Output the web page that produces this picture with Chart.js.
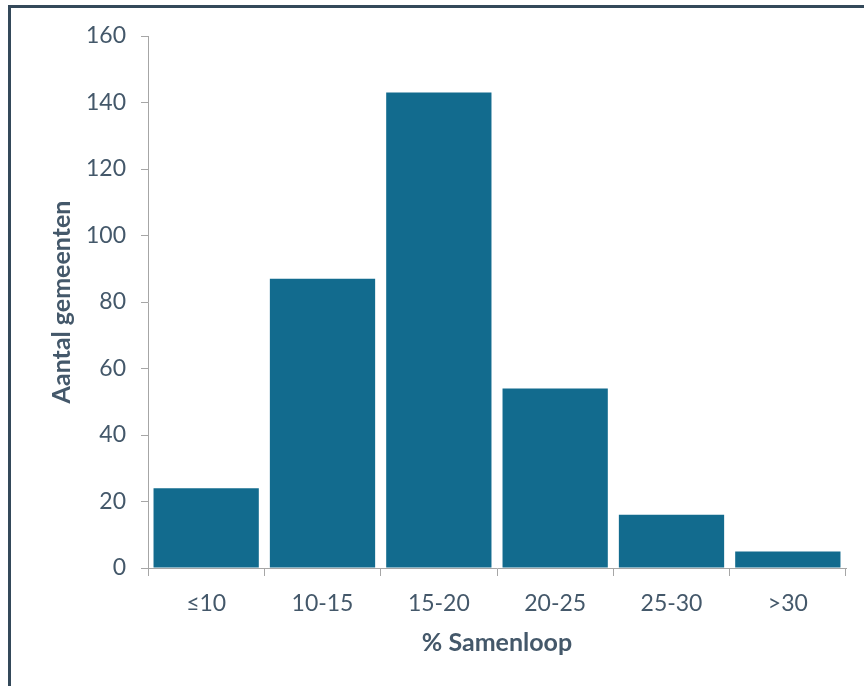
<!DOCTYPE html>
<html>
<head>
<meta charset="utf-8">
<script src="https://cdn.jsdelivr.net/npm/chart.js@4.4.1/dist/chart.umd.min.js"></script>
<style>
  html, body { margin: 0; padding: 0; background: #ffffff; }
  #wrap { position: relative; width: 864px; height: 686px; }
  canvas { display: block; }
</style>
</head>
<body>
<div id="wrap"><canvas id="chart" width="864" height="686"></canvas></div>
<script>
// Number of municipalities per band of "samenloop" percentage
const categories = ['≤10', '10-15', '15-20', '20-25', '25-30', '>30'];
const aantalGemeenten = [24, 87, 143, 54, 16, 5];
const yTicks = [0, 20, 40, 60, 80, 100, 120, 140, 160];

const barColor = '#126b8e';
const textColor = '#44586a';
const axisColor = '#a6a6a6';
const frameColor = '#34495a';

// Dark frame along the top and left edge of the figure
const framePlugin = {
  id: 'frame',
  beforeDraw(chart) {
    const ctx = chart.ctx;
    ctx.save();
    ctx.fillStyle = frameColor;
    ctx.fillRect(8, 5, 864 - 8, 3);
    ctx.fillRect(8, 5, 3, 686 - 5);
    ctx.restore();
  }
};

new Chart(document.getElementById('chart'), {
  type: 'bar',
  data: {
    labels: categories,
    datasets: [{
      data: aantalGemeenten,
      backgroundColor: barColor,
      borderWidth: 0,
      categoryPercentage: 0.905,
      barPercentage: 1.0
    }]
  },
  options: {
    responsive: false,
    animation: false,
    layout: { padding: { left: 0, right: 18, top: 36, bottom: 0 } },
    plugins: {
      legend: { display: false },
      tooltip: { enabled: false }
    },
    scales: {
      x: {
        grid: {
          display: true,
          offset: true,
          drawOnChartArea: false,
          drawTicks: true,
          tickLength: 8,
          color: axisColor
        },
        border: { display: true, color: axisColor, width: 1 },
        ticks: {
          color: textColor,
          padding: 14,
          font: { family: 'Lato', size: 23 }
        },
        title: {
          display: true,
          text: '% Samenloop',
          color: textColor,
          font: { family: 'Lato', size: 25, weight: 'bold' },
          padding: { top: 4, bottom: 28 }
        },
        afterFit(scale) { scale.height = 686 - 568; }
      },
      y: {
        min: 0,
        max: 160,
        afterBuildTicks(scale) { scale.ticks = yTicks.map(v => ({ value: v })); },
        grid: {
          display: true,
          drawOnChartArea: false,
          drawTicks: true,
          tickLength: 7,
          color: axisColor
        },
        border: { display: true, color: axisColor, width: 1 },
        ticks: {
          color: textColor,
          padding: 15,
          font: { family: 'Lato', size: 23 }
        },
        title: {
          display: true,
          text: 'Aantal gemeenten',
          color: textColor,
          font: { family: 'Lato', size: 25, weight: 'bold' },
          padding: { top: 47, bottom: 4 }
        },
        afterFit(scale) { scale.width = 148; }
      }
    }
  },
  plugins: [framePlugin]
});
</script>
</body>
</html>
